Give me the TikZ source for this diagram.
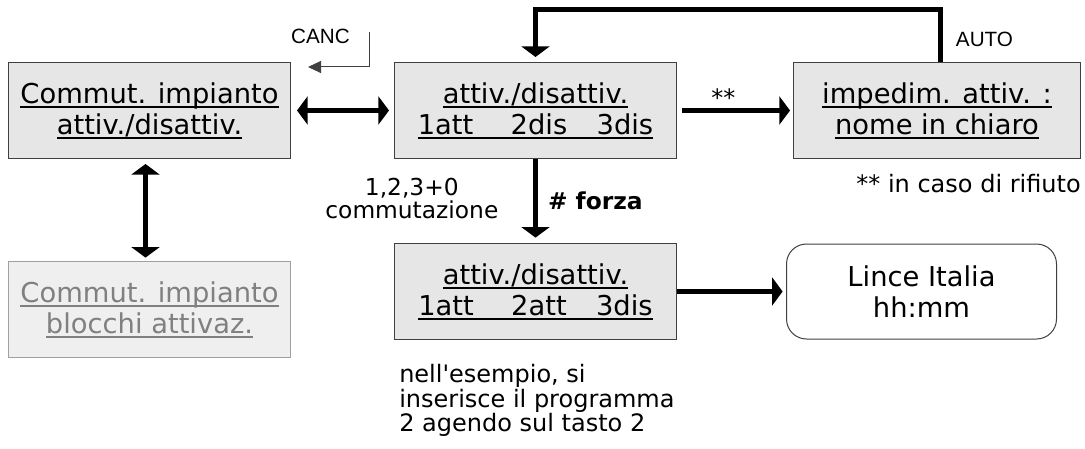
\documentclass[tikz,border=0pt]{standalone}
\usepackage{fontspec}
\setmainfont{DejaVu Sans}[Ligatures=TeXOff]
\newfontfamily\arialfont{Liberation Sans}
\usepackage{xcolor}
\usepackage{tikz}
\usetikzlibrary{arrows.meta,positioning,calc}

\definecolor{boxgray}{HTML}{E6E6E6}
\definecolor{boxline}{HTML}{404040}
\definecolor{paleline}{HTML}{A0A0A0}
\definecolor{palefill}{HTML}{EFEFEF}
\definecolor{paletext}{HTML}{808080}

\newcommand{\ulin}[1]{\setbox0\hbox{#1}\rlap{\rule[-3.25pt]{\wd0}{0.8pt}}\box0}

\begin{document}
\begin{tikzpicture}[
  x=1pt,y=1pt,
  font=\fontsize{20.5}{23.25}\selectfont,
  box/.style={rectangle,draw=boxline,fill=boxgray,line width=0.75pt,minimum width=211.5pt,minimum height=72pt,align=center,inner sep=0pt},
  pale/.style={box,draw=paleline,fill=palefill,text=paletext},
  disp/.style={rectangle,draw=boxline,fill=white,rounded corners=15pt,line width=0.75pt,minimum width=202.5pt,minimum height=71.25pt,align=center,inner sep=0pt},
  note/.style={inner sep=0pt,font=\fontsize{18}{18.4}\selectfont},
  key/.style={inner sep=0pt,font=\arialfont\fontsize{15.5}{18}\selectfont},
  ar/.style={-{Triangle[length=8pt,width=21pt]},line width=3.75pt},
  dar/.style={{Triangle[length=8pt,width=21pt]}-{Triangle[length=8pt,width=21pt]},line width=3.75pt},
  thinar/.style={-{Triangle[length=9.75pt,width=9pt]},line width=0.75pt,draw=boxline}
]
\useasboundingbox (0,0) rectangle (813.75,-336.75);

\node[box,anchor=north west] (A) at (6,-46.5) {\ulin{Commut. impianto}\\ \ulin{attiv./disattiv.}};
\node[box,right=77.25pt of A] (B) {\ulin{attiv./disattiv.}\\ \ulin{1att\hspace{28pt}2dis\hspace{22pt}3dis}};
\node[box,minimum width=215.25pt,right=87pt of B] (C) {\ulin{impedim. attiv. :}\\ \ulin{nome in chiaro}};
\node[pale,below=76.5pt of A] (D) {\ulin{Commut. impianto}\\ \ulin{blocchi attivaz.}};
\node[box,below=63pt of B] (E) {\ulin{attiv./disattiv.}\\ \ulin{1att\hspace{28pt}2att\hspace{22pt}3dis}};
\node[disp,right=81.75pt of E] (F) {Lince Italia\\ hh:mm};

\draw[dar,shorten <=4.5pt,shorten >=3.75pt] (A) -- (B);
\draw[dar,shorten <=3.75pt,shorten >=2.5pt] ([xshift=-3pt]A.south) -- ([xshift=-3pt]D.north);
\draw[ar,shorten <=3.75pt,shorten >=2.25pt] (B) -- node[note,above=1pt,pos=0.4] (stars) {**} (C);
\draw[ar,shorten >=4pt] (B) -- node[note,right=7.5pt,font=\fontsize{17.5}{17.25}\selectfont\bfseries] (forza) {\# forza}
  node[note,left=26pt,pos=0.47,align=center,font=\fontsize{17.5}{17.25}\selectfont] (comm) {1,2,3+0\\commutazione} (E);
\draw[ar,shorten >=3.75pt] ([xshift=2.6pt]C.north) -- node[key,right=9.75pt,pos=0.44] (auto) {AUTO} ++(0,39) -| (B.north);
\draw[ar,shorten >=2.5pt] (E) -- (F);

\coordinate (cancS) at ($(A.north east)+(58.5,22.5)$);
\coordinate (cancE) at ($(A.north east)+(12.75,-3.75)$);
\draw[thinar] (cancS) |- (cancE);
\node[key,left=14.25pt of cancS,yshift=-3pt] (canc) {CANC};

\node[note,below left=11.25pt and 0pt of C.south east] (rif) {** in caso di rifiuto};
\node[note,align=left,below right=18pt and 3.75pt of E.south west] (ex) {nell'esempio, si\\inserisce il programma\\2 agendo sul tasto 2};
\end{tikzpicture}
\end{document}
